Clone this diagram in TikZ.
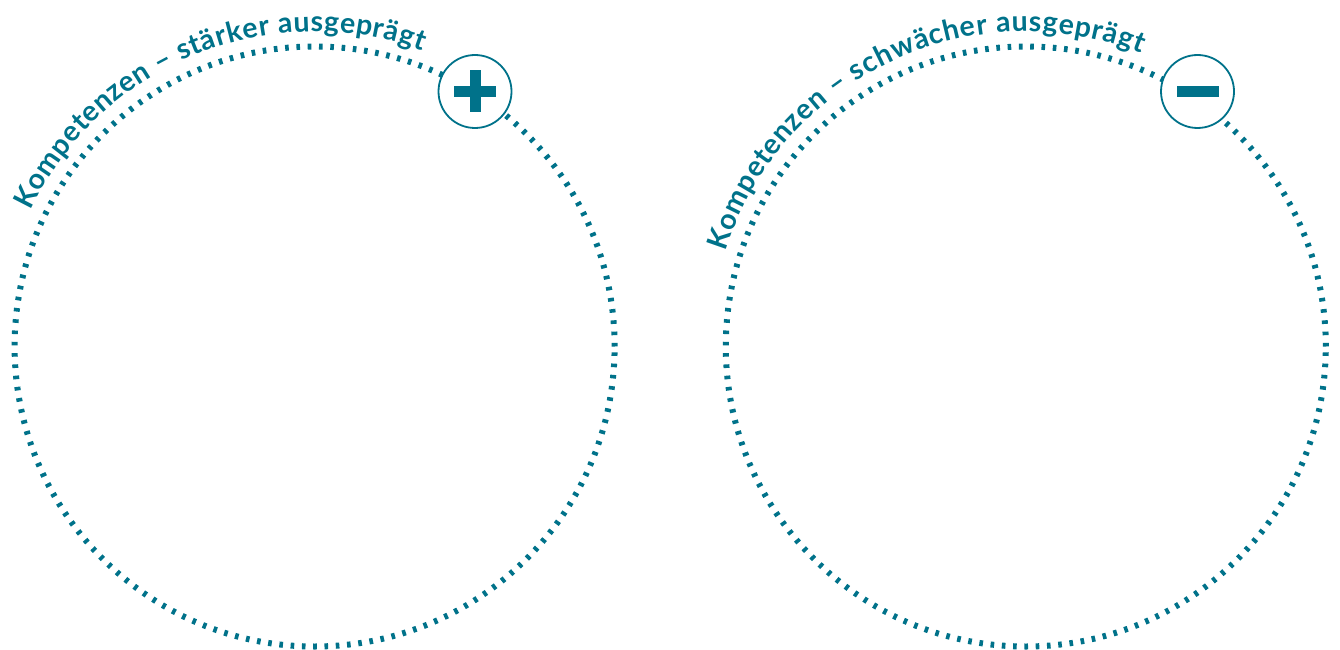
\documentclass[tikz,border=0pt]{standalone}
\usepackage{fontspec}
\setmainfont{Lato}
\usetikzlibrary{decorations.text}
\definecolor{teal}{RGB}{0,114,138}
\tikzset{
  bigring/.style={circle, draw=teal, line width=6pt, dash pattern=on 3.6pt off 7.7pt, minimum size=600pt, inner sep=0pt, outer sep=0pt},
  iconring/.style={circle, draw=teal, fill=white, line width=1.8pt, minimum size=73pt, inner sep=0pt, outer sep=0pt},
  arctext/.style={decorate, decoration={text along path, text align=fit to path, text color=teal}}
}
\begin{document}
\begin{tikzpicture}[x=1pt,y=1pt]
\useasboundingbox (0,0) rectangle (1340,649);
% rings
\node[bigring] (L) at (314.6,302.5) {};
\node[bigring] (R) at (1025.8,302.5) {};
% curved titles
\path[arctext, decoration={text={|\bfseries\fontsize{28.5}{31}\selectfont|Kompetenzen – stärker ausgeprägt}}]
  (L.center) ++(154.5:315) arc[start angle=154.5, end angle=70, radius=315];
\path[arctext, decoration={text={|\bfseries\fontsize{28.5}{31}\selectfont|Kompetenzen – schwächer ausgeprägt}}]
  (R.center) ++(162.5:315) arc[start angle=162.5, end angle=68.5, radius=315];
% icons
\node[iconring] (P) at (475,557.5) {};
\fill[teal] ([shift={(-21,-5.5)}]P.center) rectangle ([shift={(21,5.5)}]P.center);
\fill[teal] ([shift={(-5.5,-21)}]P.center) rectangle ([shift={(5.5,21)}]P.center);
\node[iconring] (M) at (1197.5,557.5) {};
\fill[teal] ([shift={(-21,-5.4)}]M.center) rectangle ([shift={(21,5.4)}]M.center);
\end{tikzpicture}
\end{document}
